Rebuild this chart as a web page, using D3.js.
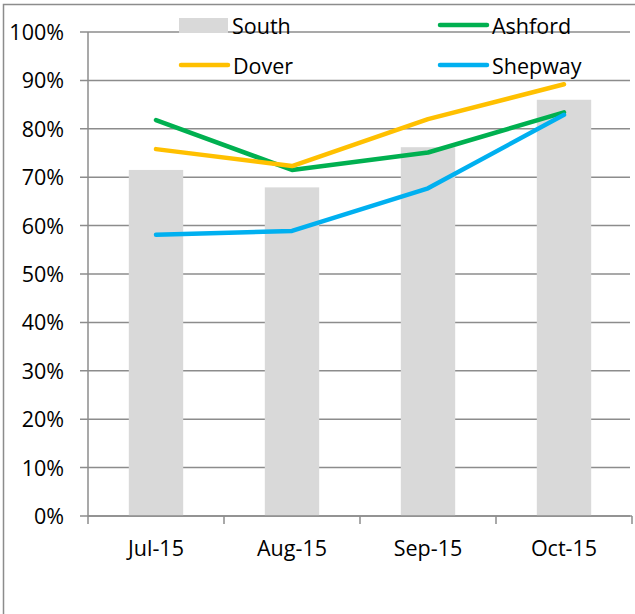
<!DOCTYPE html>
<html lang="en">
<head>
<meta charset="utf-8">
<title>South vs districts</title>
<script src="https://cdn.jsdelivr.net/npm/d3@7"></script>
<style>
  body { margin: 0; background: #fff; }
  text { font-family: "Open Sans", sans-serif; fill: #000; }
</style>
</head>
<body>
<div id="chart"></div>
<script>
// data
var months = ["Jul-15", "Aug-15", "Sep-15", "Oct-15"];
var south = [0.715, 0.679, 0.762, 0.860];
var ashford = [0.818, 0.715, 0.751, 0.834];
var dover = [0.758, 0.723, 0.820, 0.892];
var shepway = [0.581, 0.589, 0.677, 0.829];
var yTicks = [0, 0.1, 0.2, 0.3, 0.4, 0.5, 0.6, 0.7, 0.8, 0.9, 1];

var width = 635, height = 614;
var plotL = 88, plotR = 632, plotT = 32, plotB = 516;
var gridCol = "#8c8c8c";

var svg = d3.select("#chart").append("svg")
  .attr("width", width)
  .attr("height", height);

// outer frame
svg.append("rect")
  .attr("x", 3.5).attr("y", 4.5)
  .attr("width", 640).attr("height", 620)
  .attr("fill", "none")
  .attr("stroke", gridCol)
  .attr("stroke-width", 1.5);

var x = d3.scaleBand().domain(months).range([plotL, plotR]);
var y = d3.scaleLinear().domain([0, 1]).range([plotB, plotT]);

// gridlines (they run past the axis as tick marks)
svg.append("g")
  .selectAll("line")
  .data(yTicks)
  .enter().append("line")
  .attr("x1", plotL - 8).attr("x2", 630)
  .attr("y1", function(d) { return y(d); })
  .attr("y2", function(d) { return y(d); })
  .attr("stroke", gridCol)
  .attr("stroke-width", 1.5);

// y labels
svg.append("g")
  .selectAll("text")
  .data(yTicks)
  .enter().append("text")
  .attr("x", 64)
  .attr("y", function(d) { return y(d) + 8; })
  .attr("text-anchor", "end")
  .style("font-size", "21.5px")
  .text(d3.format(".0%"));

// bars
svg.append("g")
  .selectAll("rect")
  .data(south)
  .enter().append("rect")
  .attr("x", function(d, i) { return x(months[i]) + x.bandwidth() * 0.3; })
  .attr("width", x.bandwidth() * 0.4)
  .attr("y", function(d) { return y(d); })
  .attr("height", function(d) { return y(0) - y(d); })
  .attr("fill", "#d9d9d9");

// axis lines
svg.append("line")
  .attr("x1", plotL).attr("x2", plotL)
  .attr("y1", plotT).attr("y2", plotB)
  .attr("stroke", gridCol).attr("stroke-width", 1.5);
svg.append("line")
  .attr("x1", plotL).attr("x2", plotR)
  .attr("y1", plotB).attr("y2", plotB)
  .attr("stroke", gridCol).attr("stroke-width", 1.5);

// category ticks between bands
svg.append("g")
  .selectAll("line")
  .data(d3.range(months.length + 1))
  .enter().append("line")
  .attr("x1", function(i) { return plotL + i * x.step(); })
  .attr("x2", function(i) { return plotL + i * x.step(); })
  .attr("y1", plotB).attr("y2", plotB + 8)
  .attr("stroke", gridCol).attr("stroke-width", 1.5);

svg.append("g")
  .selectAll("text")
  .data(months)
  .enter().append("text")
  .attr("x", function(d) { return x(d) + x.bandwidth() / 2; })
  .attr("y", 556)
  .attr("text-anchor", "middle")
  .style("font-size", "21.5px")
  .text(function(d) { return d; });

// lines
var line = d3.line()
  .x(function(d, i) { return x(months[i]) + x.bandwidth() / 2; })
  .y(function(d) { return y(d); });

var series = [
  { name: "Ashford", values: ashford, color: "#00b050" },
  { name: "Dover", values: dover, color: "#ffc000" },
  { name: "Shepway", values: shepway, color: "#00b0f0" }
];

series.forEach(function(s) {
  svg.append("path")
    .datum(s.values)
    .attr("d", line)
    .attr("fill", "none")
    .attr("stroke", s.color)
    .attr("stroke-width", 4.5)
    .attr("stroke-linecap", "round")
    .attr("stroke-linejoin", "round");
});

// legend
var lg = svg.append("g");
lg.append("rect")
  .attr("x", 179).attr("y", 18).attr("width", 49).attr("height", 15)
  .attr("fill", "#d9d9d9");
lg.append("text").attr("x", 232).attr("y", 34).style("font-size", "21.5px").text("South");

var legendLines = [
  { s: series[1], x: 181, y: 65 },
  { s: series[0], x: 440, y: 25 },
  { s: series[2], x: 440, y: 65 }
];
legendLines.forEach(function(l) {
  lg.append("line")
    .attr("x1", l.x).attr("x2", l.x + 47)
    .attr("y1", l.y).attr("y2", l.y)
    .attr("stroke", l.s.color)
    .attr("stroke-width", 4.5)
    .attr("stroke-linecap", "round");
  lg.append("text")
    .attr("x", l.x + 52).attr("y", l.y + 9)
    .style("font-size", "21.5px")
    .text(l.s.name);
});
</script>
</body>
</html>
